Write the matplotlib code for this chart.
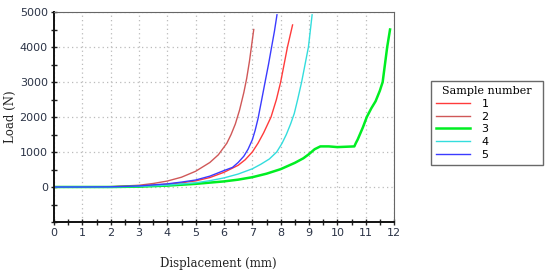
import numpy as np
import matplotlib
matplotlib.use('Agg')
import matplotlib.pyplot as plt
from matplotlib.ticker import MultipleLocator, FuncFormatter

# sample curves: displacement (mm), load (N)
x1 = [0, 1, 2, 3, 4, 4.5, 5, 5.5, 6, 6.5, 6.75, 7.0, 7.2, 7.4, 7.66, 7.85, 8.0, 8.12, 8.24, 8.42]
y1 = [0, 0, 5, 30, 80, 120, 175, 270, 420, 620, 780, 1000, 1250, 1550, 2000, 2500, 3000, 3500, 4000, 4630]

x2 = [0, 1, 2, 3, 3.5, 4, 4.5, 5, 5.5, 5.8, 6.1, 6.25, 6.4, 6.55, 6.7, 6.8, 6.9, 7.05]
y2 = [0, 0, 10, 50, 100, 170, 280, 450, 700, 920, 1250, 1500, 1800, 2200, 2700, 3100, 3600, 4500]

x3 = [0, 1, 2, 3, 4, 5, 6, 6.5, 7, 7.5, 8, 8.5, 8.8, 9.0, 9.2, 9.4, 9.7, 10.0, 10.3, 10.6,
      10.65, 10.72, 10.9, 11.04, 11.2, 11.35, 11.5, 11.6, 11.68, 11.76, 11.86]
y3 = [0, 0, 0, 10, 40, 90, 160, 210, 280, 380, 510, 690, 820, 940, 1080, 1160, 1160, 1140, 1150, 1160,
      1250, 1360, 1700, 2000, 2250, 2450, 2750, 3000, 3500, 4000, 4500]

x4 = [0, 1, 2, 3, 4, 5, 5.5, 6, 6.5, 7, 7.3, 7.6, 7.86, 8.05, 8.2, 8.35, 8.48, 8.6, 8.74, 8.86, 8.98, 9.11]
y4 = [0, 0, 0, 15, 50, 120, 180, 260, 370, 520, 650, 800, 1000, 1250, 1500, 1800, 2100, 2500, 3000, 3500, 4000, 4920]

x5 = [0, 1, 2, 3, 4, 4.5, 5, 5.5, 6, 6.3, 6.5, 6.7, 6.85, 7.0, 7.1, 7.2, 7.32, 7.45, 7.57, 7.68, 7.78, 7.87]
y5 = [0, 0, 5, 30, 90, 140, 200, 310, 470, 560, 700, 880, 1080, 1350, 1620, 1950, 2450, 3000, 3500, 4000, 4450, 4920]

labels = ['1', '2', '3', '4', '5']
colors = ['#ff3b3b', '#d05858', '#00ee22', '#33dddd', '#3b3bff']
widths = [1.0, 1.0, 1.8, 1.0, 1.0]

fig = plt.figure(figsize=(5.5, 2.76), dpi=100)
ax = fig.add_axes([54/550, 1 - 222/276, 340/550, 210/276])

for xs, ys, lab, c, w in zip([x1, x2, x3, x4, x5], [y1, y2, y3, y4, y5], labels, colors, widths):
    ax.plot(xs, ys, color=c, lw=w, label=lab)

ax.set_xlim(0, 12)
ax.set_ylim(-1000, 5000)
ax.xaxis.set_major_locator(MultipleLocator(1))
ax.xaxis.set_minor_locator(MultipleLocator(0.5))
ax.yaxis.set_major_locator(MultipleLocator(1000))
ax.yaxis.set_minor_locator(MultipleLocator(500))
ax.yaxis.set_major_formatter(FuncFormatter(lambda v, p: '' if v < 0 else f'{v:.0f}'))

ax.grid(True, which='major', color='#bbbbbb', linestyle=(0, (1, 2.5)), lw=0.9)
ax.tick_params(which='both', direction='inout', length=5, width=1, color='#222222',
               labelsize=8, labelcolor='#2b3346', pad=2)
ax.tick_params(which='minor', length=4)

for s in ['left', 'bottom']:
    ax.spines[s].set_linewidth(1.4)
    ax.spines[s].set_color('#111111')
for s in ['top', 'right']:
    ax.spines[s].set_linewidth(0.8)
    ax.spines[s].set_color('#666666')

ax.set_xlabel('Displacement (mm)', family='DejaVu Serif', fontsize=8.5, color='#222222')
ax.xaxis.set_label_coords(0.482, -0.165)
ax.set_ylabel('Load (N)', family='DejaVu Serif', fontsize=8.5, color='#222222')
ax.yaxis.set_label_coords(-0.11, 0.5)

leg = fig.legend(loc='upper left', bbox_to_anchor=(431/550, 1 - 163/276, 112/550, 82/276),
                 mode='expand', title='Sample number',
                 frameon=True, fancybox=False, fontsize=8, handlelength=3.1, handletextpad=1.0,
                 labelspacing=0.25, borderpad=0.45, borderaxespad=0)
leg.get_frame().set_edgecolor('#444444')
leg.get_frame().set_linewidth(1.0)
leg.get_title().set_family('DejaVu Serif')
leg.get_title().set_fontsize(8)

fig.savefig('out.png', dpi=100)
